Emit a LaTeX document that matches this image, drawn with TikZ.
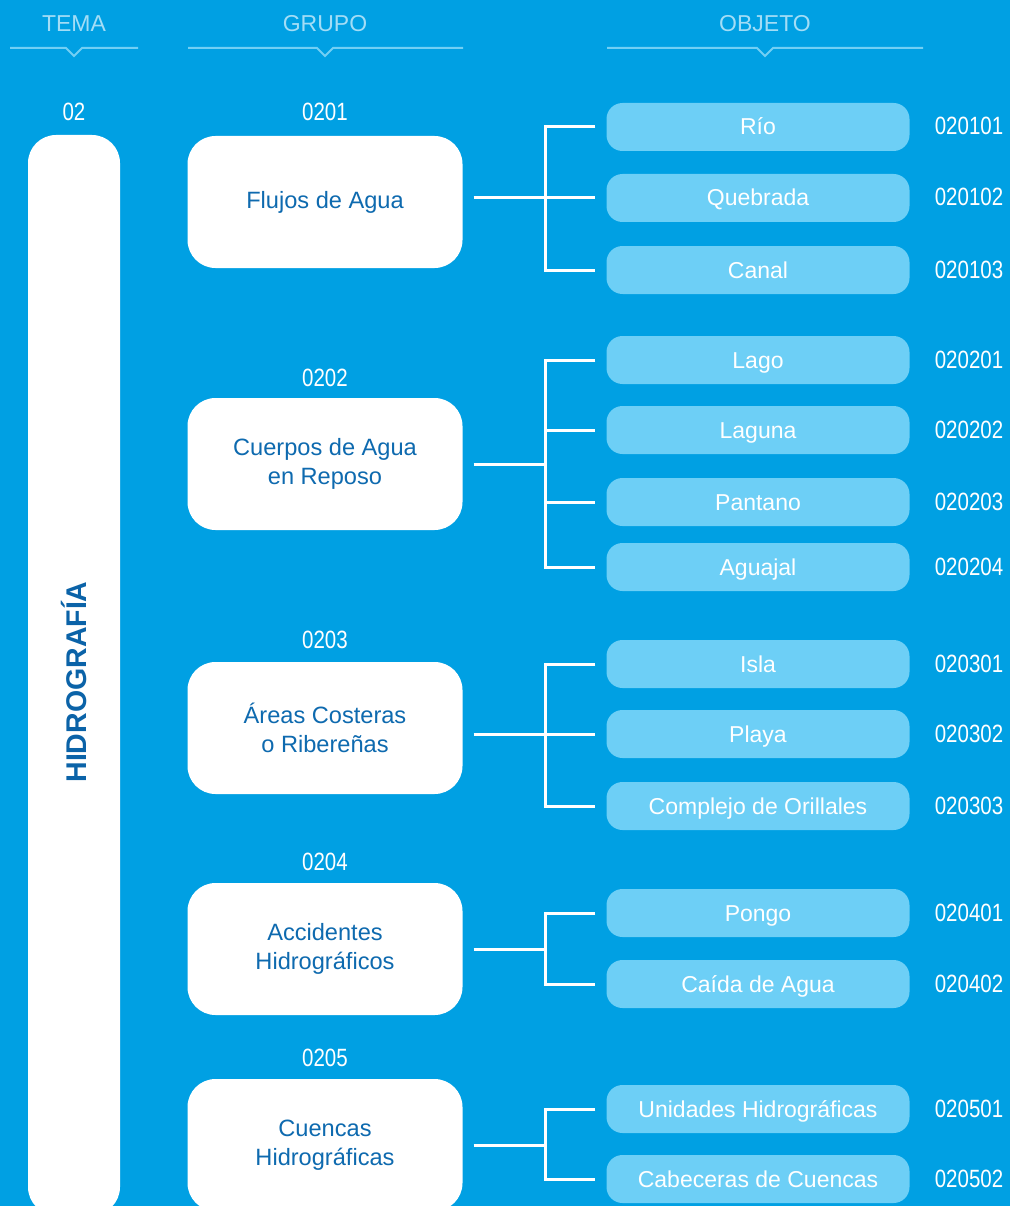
\documentclass[tikz,border=0pt]{standalone}
\usepackage{fontspec}
\setmainfont{Liberation Sans}
\newfontfamily\condfont[FakeStretch=0.82]{Liberation Sans}
\definecolor{bg}{HTML}{00A0E3}
\definecolor{objfill}{HTML}{6DCFF6}
\definecolor{grptext}{HTML}{0E6AAF}
\definecolor{temtext}{HTML}{0B63A8}
\definecolor{hdrtext}{HTML}{A3DDF6}
\definecolor{hdrline}{HTML}{72CFF4}
\begin{document}
\begin{tikzpicture}[x=1pt,y=-1pt,
  grp/.style={rectangle, rounded corners=28pt, fill=white, minimum width=275pt, minimum height=132pt, text=grptext, align=center, font=\fontsize{23.6}{29}\selectfont, inner sep=0pt},
  obj/.style={rectangle, rounded corners=16pt, fill=objfill, minimum width=303pt, minimum height=48pt, text=white, font=\fontsize{23}{23}\selectfont, inner sep=0pt, text height=21pt, text depth=5pt},
  code/.style={text=white, font=\condfont\fontsize{25}{25}\selectfont, inner sep=0pt, text height=18pt, text depth=0pt},
  hdr/.style={text=hdrtext, font=\fontsize{23}{23}\selectfont, inner sep=0pt, text height=17pt, text depth=0pt},
  hline/.style={draw=hdrline, line width=2pt},
  conn/.style={draw=white, line width=3pt}]
\useasboundingbox (0,0) rectangle (1010,1206);
\clip (0,0) rectangle (1010,1206);
\fill[bg] (0,0) rectangle (1010,1206);

% headers
\node[hdr] (hTema) at (74,23) {TEMA};
\node[hdr] (hGrupo) at (325,23) {GRUPO};
\node[hdr] (hObjeto) at (765,23) {OBJETO};
\draw[hline] (10,48) -- (66,48) -- (74,56) -- (82,48) -- (138,48);
\draw[hline] (188,48) -- (317,48) -- (325,56) -- (333,48) -- (463,48);
\draw[hline] (607,48) -- (757,48) -- (765,56) -- (773,48) -- (923,48);

% tema
\node[code] (ctema) at (74,112) {02};
\node[rectangle, rounded corners=28pt, fill=white, minimum width=92pt, minimum height=1080pt, inner sep=0pt] (tema) at (74,675) {};
\node[rotate=90, text=temtext, font=\bfseries\fontsize{28.5}{29}\selectfont, inner sep=0pt] (temalbl) at (74,682) {HIDROGRAFÍA};

% groups
\node[code] (cg1) at (325,112) {0201};
\node[grp] (g1) at (325,202) {Flujos de Agua};
\node[code] (cg2) at (325,377) {0202};
\node[grp] (g2) at (325,464) {Cuerpos de Agua\\en Reposo};
\node[code] (cg3) at (325,639) {0203};
\node[grp] (g3) at (325,728) {Áreas Costeras\\o Ribereñas};
\node[code] (cg4) at (325,861) {0204};
\node[grp] (g4) at (325,949) {Accidentes\\Hidrográficos};
\node[code] (cg5) at (325,1057) {0205};
\node[grp] (g5) at (325,1145) {Cuencas\\Hidrográficas};

% objects
\node[obj] (o11) at (758,127) {Río};
\node[obj] (o12) at (758,198) {Quebrada};
\node[obj] (o13) at (758,270) {Canal};
\node[obj] (o21) at (758,360) {Lago};
\node[obj] (o22) at (758,430) {Laguna};
\node[obj] (o23) at (758,502) {Pantano};
\node[obj] (o24) at (758,567) {Aguajal};
\node[obj] (o31) at (758,664) {Isla};
\node[obj] (o32) at (758,734) {Playa};
\node[obj] (o33) at (758,806) {Complejo de Orillales};
\node[obj] (o41) at (758,913) {Pongo};
\node[obj] (o42) at (758,984) {Caída de Agua};
\node[obj] (o51) at (758,1109) {Unidades Hidrográficas};
\node[obj] (o52) at (758,1179) {Cabeceras de Cuencas};

% codes
\foreach \n/\t in {o11/020101,o12/020102,o13/020103,o21/020201,o22/020202,o23/020203,o24/020204,o31/020301,o32/020302,o33/020303,o41/020401,o42/020402,o51/020501,o52/020502}
  \node[code] (c\n) at ([yshift=1pt]\n.center -| 969,0) {\t};

% connectors
\coordinate (bus) at (545,0);
\draw[conn] ([xshift=11pt]g1.east |- o12) -- (bus |- o12);
\draw[conn] ([xshift=11pt]g2.east) -- (bus |- g2.east);
\draw[conn] ([xshift=11pt]g3.east |- o32) -- (bus |- o32);
\draw[conn] ([xshift=11pt]g4.east) -- (bus |- g4.east);
\draw[conn] ([xshift=11pt]g5.east) -- (bus |- g5.east);
\draw[conn] ([xshift=-11pt]o11.west) -- (bus |- o11) -- (bus |- o13) -- ([xshift=-11pt]o13.west);
\draw[conn] (bus |- o12) -- ([xshift=-11pt]o12.west);
\draw[conn] ([xshift=-11pt]o21.west) -- (bus |- o21) -- (bus |- o24) -- ([xshift=-11pt]o24.west);
\draw[conn] (bus |- o22) -- ([xshift=-11pt]o22.west);
\draw[conn] (bus |- o23) -- ([xshift=-11pt]o23.west);
\draw[conn] ([xshift=-11pt]o31.west) -- (bus |- o31) -- (bus |- o33) -- ([xshift=-11pt]o33.west);
\draw[conn] (bus |- o32) -- ([xshift=-11pt]o32.west);
\draw[conn] ([xshift=-11pt]o41.west) -- (bus |- o41) -- (bus |- o42) -- ([xshift=-11pt]o42.west);
\draw[conn] ([xshift=-11pt]o51.west) -- (bus |- o51) -- (bus |- o52) -- ([xshift=-11pt]o52.west);
\end{tikzpicture}
\end{document}
